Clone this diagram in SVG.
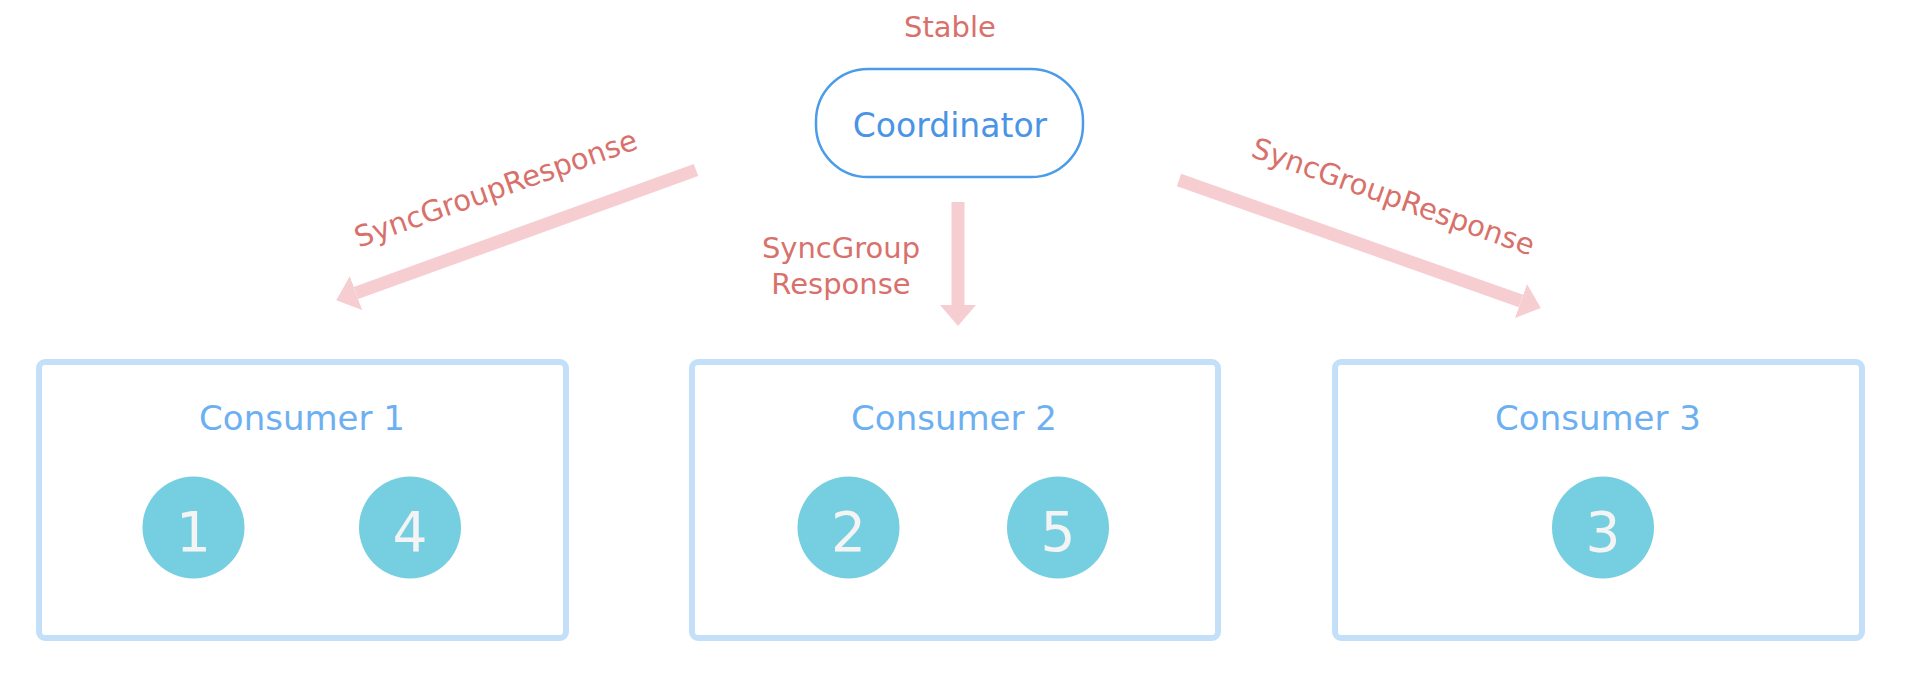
<svg xmlns="http://www.w3.org/2000/svg" width="1920" height="698" viewBox="0 0 1920 698">
<style>
text{font-family:"DejaVu Sans","Verdana",sans-serif;text-anchor:middle}
.lbl{fill:#d8716b;font-size:29px}
.box{fill:#fff;stroke:#c4e0f8;stroke-width:6}
.ctitle{fill:#6db0f2;font-size:34px}
.part{fill:#76cfe0}
.num{fill:#f4f4f4;font-size:55px}
.conn{stroke:#f6ced2;stroke-width:13;fill:none}
</style>
<defs>
<marker id="ah" markerUnits="userSpaceOnUse" viewBox="0 -18 21 36" markerWidth="21" markerHeight="36" refX="0" refY="0" orient="auto">
<path d="M0,-18 L21,0 L0,18 z" fill="#f6ced2"/>
</marker>
</defs>
<rect width="1920" height="698" fill="#fff"/>
<g id="coordinator">
<text class="lbl" x="950" y="37">Stable</text>
<rect x="816" y="69" width="267" height="108" rx="52" fill="#fff" stroke="#4a9be8" stroke-width="2.5"/>
<text x="950" y="137" style="fill:#4a94e6;font-size:33px">Coordinator</text>
</g>
<g id="connectors">
<line class="conn" x1="696" y1="170" x2="356" y2="293" marker-end="url(#ah)"/>
<line class="conn" x1="958" y1="202" x2="958" y2="305" marker-end="url(#ah)"/>
<line class="conn" x1="1179" y1="180" x2="1521" y2="301" marker-end="url(#ah)"/>
<text class="lbl" transform="translate(499,198) rotate(-19.5)">SyncGroupResponse</text>
<text class="lbl" x="841" y="258">SyncGroup</text>
<text class="lbl" x="841" y="294">Response</text>
<text class="lbl" transform="translate(1390,206) rotate(19.5)">SyncGroupResponse</text>
</g>
<g id="consumer1">
<rect class="box" x="39" y="362" width="527" height="276" rx="6"/>
<text class="ctitle" x="302" y="430">Consumer 1</text>
<circle class="part" cx="193.5" cy="527.5" r="51"/>
<text class="num" x="193.5" y="550.5">1</text>
<circle class="part" cx="410" cy="527.5" r="51"/>
<text class="num" x="410" y="550.5">4</text>
</g>
<g id="consumer2">
<rect class="box" x="692" y="362" width="526" height="276" rx="6"/>
<text class="ctitle" x="954" y="430">Consumer 2</text>
<circle class="part" cx="848.5" cy="527.5" r="51"/>
<text class="num" x="848.5" y="550.5">2</text>
<circle class="part" cx="1058" cy="527.5" r="51"/>
<text class="num" x="1058" y="550.5">5</text>
</g>
<g id="consumer3">
<rect class="box" x="1335" y="362" width="527" height="276" rx="6"/>
<text class="ctitle" x="1598" y="430">Consumer 3</text>
<circle class="part" cx="1603" cy="527.5" r="51"/>
<text class="num" x="1603" y="550.5">3</text>
</g>
</svg>
